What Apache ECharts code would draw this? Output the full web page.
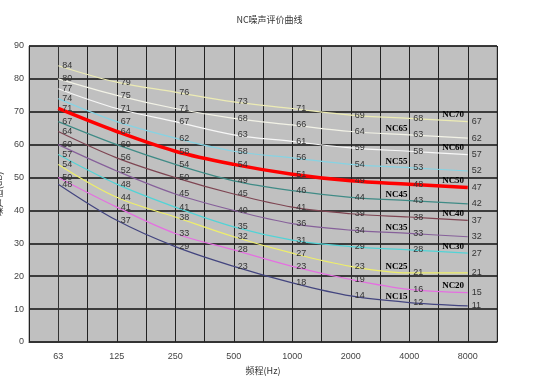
<!DOCTYPE html>
<html><head><meta charset="utf-8">
<script src="https://cdn.jsdelivr.net/npm/echarts@6/dist/echarts.min.js"></script>
<style>html,body{margin:0;padding:0;background:#fff}#c{width:539px;height:379px}</style>
</head><body><div id="c"></div>
<script>
const categories = ['63','125','250','500','1000','2000','4000','8000'];
const seriesNames = ['NC70','NC65','NC60','NC55','NC50','NC45','NC40','NC35','NC30','NC25','NC20','NC15'];
const NC70 = [84,79,76,73,71,69,68,67];
const NC65 = [80,75,71,68,66,64,63,62];
const NC60 = [77,71,67,63,61,59,58,57];
const NC55 = [74,67,62,58,56,54,53,52];
const NC50 = [71,64,58,54,51,49,48,47];
const NC45 = [67,60,54,49,46,44,43,42];
const NC40 = [64,56,50,45,41,39,38,37];
const NC35 = [60,52,45,40,36,34,33,32];
const NC30 = [57,48,41,35,31,29,28,27];
const NC25 = [54,44,38,32,27,23,21,21];
const NC20 = [50,41,33,28,23,19,16,15];
const NC15 = [48,37,29,23,18,14,12,11];
const yTicks = [0,10,20,30,40,50,60,70,80,90];

const allData = [NC70,NC65,NC60,NC55,NC50,NC45,NC40,NC35,NC30,NC25,NC20,NC15];
const colors = ['#ecebb4','#f2f2e6','#f7f7f7','#86d3e3','#ff0000','#3f8b86','#7e4552','#86609a','#52d3d6','#eeee6a','#e46fe0','#43457f'];

const series = allData.map((d, k) => {
  const isRed = k === 4;
  const even = k % 2 === 0;
  const ax = even ? 6.75 : 5.78;
  const ay = even ? d[7] + 2.1 : d[6] + 1.8;
  return {
    name: seriesNames[k],
    type: 'line',
    smooth: 0.35,
    symbol: 'circle',
    symbolSize: 0,
    z: isRed ? 5 : 3,
    data: d.map((v, i) => [i, v]),
    lineStyle: { color: colors[k], width: isRed ? 3.5 : 1.2 },
    itemStyle: { color: colors[k] },
    label: { show: true, position: 'right', distance: 4, color: '#333', fontSize: 9,
      fontFamily: 'Liberation Sans', formatter: p => p.value[1] },
    emphasis: { disabled: true },
    markPoint: {
      symbol: 'circle', symbolSize: 0, silent: true,
      data: [{ coord: [ax, ay], value: seriesNames[k] }],
      label: { show: true, position: 'inside', formatter: seriesNames[k], color: '#000',
        fontSize: 9, fontWeight: 'bold', fontFamily: 'Liberation Serif' }
    }
  };
});

const chart = echarts.init(document.getElementById('c'));
chart.setOption({
  animation: false,
  backgroundColor: '#fff',
  title: { text: 'NC噪声评价曲线', left: 'center', top: 10,
    textStyle: { fontSize: 9, fontWeight: 'normal', color: '#333', fontFamily: 'Noto Sans CJK SC' } },
  grid: { left: 29, right: 42, top: 46, bottom: 37, containLabel: false, outerBoundsMode: 'none',
    show: true, backgroundColor: '#c0c0c0', borderColor: '#808080', borderWidth: 1 },
  xAxis: {
    type: 'value', min: -0.5, max: 7.5, interval: 0.5,
    name: '频程(Hz)', nameLocation: 'middle', nameGap: 22,
    nameTextStyle: { fontSize: 9, color: '#333', fontFamily: 'Noto Sans CJK SC' },
    axisLine: { show: true, lineStyle: { color: '#333' } },
    axisTick: { show: false },
    splitLine: { show: true, lineStyle: { color: '#222', width: 1 } },
    axisLabel: { fontSize: 9, color: '#444', margin: 10,
      formatter: v => Number.isInteger(v) && v >= 0 && v < categories.length ? categories[v] : '' }
  },
  yAxis: {
    type: 'value', min: yTicks[0], max: yTicks[yTicks.length - 1], interval: 10,
    name: '噪声值(dB)', nameLocation: 'middle', nameGap: 20, nameRotate: 90,
    nameTextStyle: { fontSize: 9, color: '#333', fontFamily: 'Noto Sans CJK SC' },
    axisLine: { show: true, lineStyle: { color: '#333' } },
    axisTick: { show: false },
    splitLine: { show: true, lineStyle: { color: '#111', width: 1.5 } },
    axisLabel: { fontSize: 9, color: '#444', margin: 5 }
  },
  series: series
});
</script></body></html>
